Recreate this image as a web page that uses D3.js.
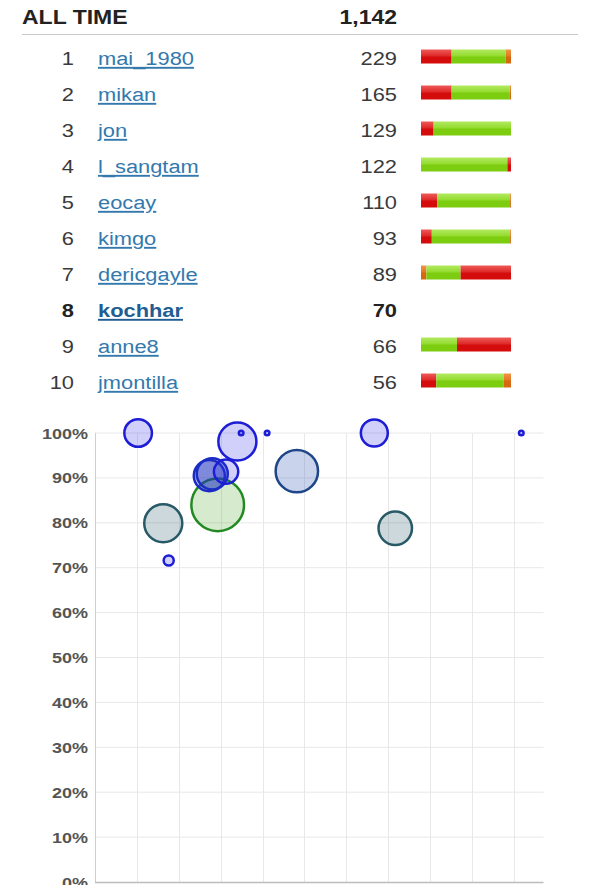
<!DOCTYPE html>
<html>
<head>
<meta charset="utf-8">
<script src="https://cdn.jsdelivr.net/npm/d3@7"></script>
<style>
  body { margin: 0; background: #fff; }
  svg { display: block; font-family: "Liberation Sans", Arial, sans-serif; }
</style>
</head>
<body>
<script>
// leaderboard table
var totalLabel = "1,142";
var names = ["mai_1980", "mikan", "jon", "l_sangtam", "eocay", "kimgo", "dericgayle", "kochhar", "anne8", "jmontilla"];
var counts = [229, 165, 129, 122, 110, 93, 89, 70, 66, 56];
var currentUser = "kochhar";
// bar pieces per row, r = wrong, g = right, o = skipped
var barOrder = ["rgo", "rgo", "rg", "gr", "rgo", "rgo", "ogr", "", "gr", "rgo"];
var barShares = [
  [34, 60, 6], [34, 64.5, 1.5], [14, 86], [96, 4], [18, 81, 1],
  [12, 87, 1], [6, 38, 56], [], [40, 60], [17, 75, 8]
];

// bubble chart
var yTicks = [0, 10, 20, 30, 40, 50, 60, 70, 80, 90, 100];
var xTicks = [0, 1, 2, 3, 4, 5, 6, 7, 8, 9, 10];
var bubbleX = [2.93, 1.03, 1.63, 7.17, 4.82, 3.40, 6.67, 2.73, 2.80, 3.13, 1.76, 3.49, 4.11, 10.18];
var bubbleY = [84.0, 100, 79.9, 78.8, 91.5, 98.1, 100, 90.5, 90.9, 91.4, 71.6, 100, 100, 100];
var bubbleSize = [820, 240, 440, 345, 540, 440, 230, 300, 300, 190, 40, 12, 12, 12];
var bubbleGroup = ["green", "blue", "teal", "teal", "steel", "blue", "blue", "dark", "dark", "blue", "blue", "blue", "blue", "blue"];

var W = 594, H = 885;
var svg = d3.select("body").append("svg")
  .attr("width", W)
  .attr("height", H);

//GRADIENTS for the glossy bars
//-------------------------------
var barColors = {
  r: ["#ee5a5a", "#e02a2a", "#d40c0c"],
  g: ["#b2ea60", "#94dc30", "#7ccc10"],
  o: ["#f09448", "#e47a24", "#d66810"]
};
var defs = svg.append("defs");
Object.keys(barColors).forEach(function(k) {
  var grad = defs.append("linearGradient")
    .attr("id", "grad-" + k)
    .attr("x1", 0).attr("x2", 0).attr("y1", 0).attr("y2", 1);
  grad.append("stop").attr("offset", "0%").attr("stop-color", barColors[k][0]);
  grad.append("stop").attr("offset", "45%").attr("stop-color", barColors[k][1]);
  grad.append("stop").attr("offset", "55%").attr("stop-color", barColors[k][2]);
  grad.append("stop").attr("offset", "100%").attr("stop-color", barColors[k][2]);
});

//TABLE
//-------------------------------
var sx = 1.15;
function put(sel, x, y) {
  return sel.attr("transform", "translate(" + x + "," + y + ") scale(" + sx + ",1)");
}

put(svg.append("text"), 22, 24)
  .text("ALL TIME")
  .style("font-size", "20px")
  .style("font-weight", "bold")
  .style("fill", "#222");

put(svg.append("text"), 397, 24)
  .text(totalLabel)
  .attr("text-anchor", "end")
  .style("font-size", "20px")
  .style("font-weight", "bold")
  .style("fill", "#222");

svg.append("line")
  .attr("x1", 22).attr("x2", 578)
  .attr("y1", 34.5).attr("y2", 34.5)
  .style("stroke", "#c8c8c8");

var rowY = d3.scaleBand()
  .domain(d3.range(names.length))
  .range([65 - 18, 65 - 18 + 36 * names.length]);

var barX = d3.scaleLinear().domain([0, 100]).range([421, 511]);

var rows = svg.selectAll("g.row")
  .data(names)
  .enter().append("g")
  .attr("class", "row")
  .attr("transform", function(d, i) { return "translate(0," + (rowY(i) + 18) + ")"; });

rows.each(function(d, i) {
  var g = d3.select(this);
  var me = d === currentUser;
  put(g.append("text"), 74, 0)
    .attr("text-anchor", "end")
    .text(i + 1)
    .style("font-size", "19px")
    .style("font-weight", me ? "bold" : "normal")
    .style("fill", me ? "#222" : "#3a3a3a");
  put(g.append("text"), 98, 0)
    .text(d)
    .style("font-size", "19px")
    .style("font-weight", me ? "bold" : "normal")
    .style("text-decoration", "underline")
    .style("fill", me ? "#1f5e92" : "#3479ad");
  put(g.append("text"), 397, 0)
    .attr("text-anchor", "end")
    .text(counts[i])
    .style("font-size", "19px")
    .style("font-weight", me ? "bold" : "normal")
    .style("fill", me ? "#222" : "#3a3a3a");

  var acc = 0;
  var parts = barShares[i].map(function(v, j) {
    var p = { k: barOrder[i][j], x0: acc, x1: acc + v };
    acc += v;
    return p;
  });
  g.selectAll("rect")
    .data(parts)
    .enter().append("rect")
    .attr("x", function(p) { return barX(p.x0); })
    .attr("width", function(p) { return barX(p.x1) - barX(p.x0); })
    .attr("y", -15.5)
    .attr("height", 14)
    .style("fill", function(p) { return "url(#grad-" + p.k + ")"; });
});

//BUBBLE CHART
//-------------------------------
var x = d3.scaleLinear().domain([0, 10.71]).range([95, 543.5]);
var y = d3.scaleLinear().domain([0, 100]).range([882, 433]);
var r = d3.scaleSqrt().domain([0, 800]).range([0, 27]);

var grid = svg.append("g");
grid.selectAll("line.h")
  .data(yTicks.slice(1))
  .enter().append("line")
  .attr("x1", x(0)).attr("x2", x(10.71))
  .attr("y1", function(d) { return y(d); })
  .attr("y2", function(d) { return y(d); })
  .style("stroke", "#e8e8e8");
grid.selectAll("line.v")
  .data(xTicks.slice(1))
  .enter().append("line")
  .attr("x1", function(d) { return Math.round(x(d)) + 0.5; })
  .attr("x2", function(d) { return Math.round(x(d)) + 0.5; })
  .attr("y1", y(100)).attr("y2", y(0))
  .style("stroke", "#e8e8e8");

// axis lines
svg.append("line")
  .attr("x1", x(0) + 0.5).attr("x2", x(0) + 0.5)
  .attr("y1", y(100)).attr("y2", y(0))
  .style("stroke", "#cfcfcf");
svg.append("line")
  .attr("x1", x(0)).attr("x2", x(10.71))
  .attr("y1", y(0) + 0.5).attr("y2", y(0) + 0.5)
  .style("stroke", "#bdbdbd")
  .style("stroke-width", 1.5);

svg.selectAll("text.ylab")
  .data(yTicks)
  .enter().append("text")
  .attr("class", "ylab")
  .attr("transform", function(d) { return "translate(88," + (y(d) + 5.5) + ") scale(1.2,1)"; })
  .attr("text-anchor", "end")
  .text(function(d) { return d + "%"; })
  .style("font-size", "15px")
  .style("font-weight", "bold")
  .style("fill", "#555");

var groupStyle = {
  blue:  { stroke: "#1d1dd6", fill: "rgba(40,40,235,0.22)" },
  dark:  { stroke: "#1a2cc4", fill: "rgba(30,50,190,0.34)" },
  teal:  { stroke: "#275a66", fill: "rgba(40,90,110,0.24)" },
  green: { stroke: "#238a23", fill: "rgba(70,160,30,0.22)" },
  steel: { stroke: "#1f4688", fill: "rgba(40,80,175,0.25)" }
};

svg.selectAll("circle.bubble")
  .data(bubbleX)
  .enter().append("circle")
  .attr("class", "bubble")
  .attr("cx", function(d) { return x(d); })
  .attr("cy", function(d, i) { return y(bubbleY[i]); })
  .attr("r", function(d, i) { return Math.max(2.2, r(bubbleSize[i]) - 1); })
  .style("fill", function(d, i) { return groupStyle[bubbleGroup[i]].fill; })
  .style("stroke", function(d, i) { return groupStyle[bubbleGroup[i]].stroke; })
  .style("stroke-width", 2.5);
</script>
</body>
</html>
